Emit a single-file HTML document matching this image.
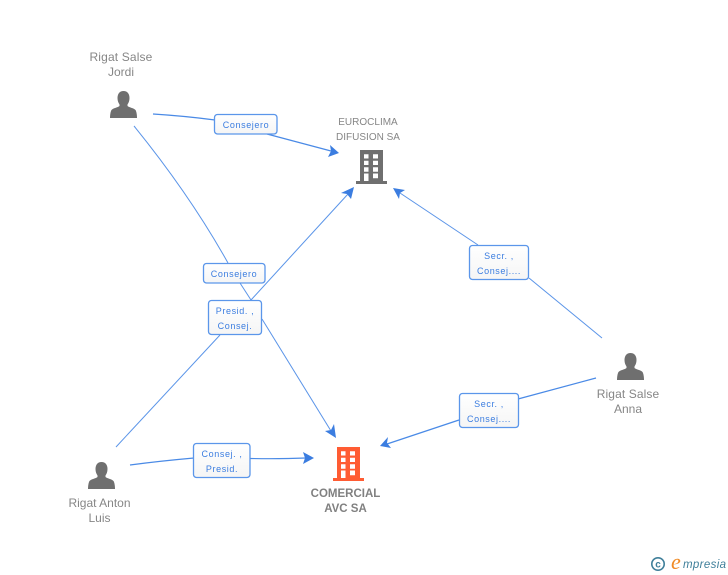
<!DOCTYPE html>
<html>
<head>
<meta charset="utf-8">
<style>
html,body{margin:0;padding:0;background:#fff;width:728px;height:575px;overflow:hidden}
svg{display:block}
text{font-family:"Liberation Sans",sans-serif}
.n{font-size:12px;fill:#868686;text-anchor:middle}
.b{font-size:11.5px;fill:#808080;text-anchor:middle;font-weight:bold}
.l{font-size:9px;fill:#3b7de0;text-anchor:middle;letter-spacing:.6px}
.c{fill:none;stroke:#4a8ae6;stroke-width:1.2}
.t{fill:none;stroke:#5a94e8;stroke-width:1}
.a{fill:#3b7de0}
.box{fill:url(#g);stroke:#5b96ea;stroke-width:1.3}
</style>
</head>
<body>
<svg width="728" height="575" viewBox="0 0 728 575" xmlns="http://www.w3.org/2000/svg">
<defs>
<linearGradient id="g" x1="0" y1="0" x2="0" y2="1"><stop offset="0" stop-color="#ffffff"/><stop offset="1" stop-color="#f5f5f5"/></linearGradient>
<g id="p"><path d="M13.5 0C9.5 0 7.5 3 7.5 7C7.5 10 8.5 12 9.500 13.500V15C8 16.500 3 17 1.500 19C.5 20.500 0 24 0 27H27C27 24 26.500 20.500 25.500 19C24 17 19 16.500 17.500 15V13.500C18.500 12 19.500 10 19.500 7C19.500 3 17.500 0 13.500 0Z" fill="#6f6f6f"/></g>
<g id="h"><path fill-rule="evenodd" d="M4 0H27V31H31V34H0V31H4ZM8 4.300V8.500H12.500V4.300ZM17 4.300V8.500H22V4.300ZM8 10.700V15H12.500V10.700ZM17 10.700V15H22V10.700ZM8 17.300V21.700H12.500V17.300ZM17 17.300V21.700H22V17.300ZM8 23.500V31H12.500V23.500ZM17 23.500V28.300H22V23.500Z"/></g>
</defs>

<path class="c" d="M153 114Q185 116 215 120"/>
<path class="c" d="M267 134L331 151"/>
<path class="a" d="M339 153L328 157L331 151L330 145Z"/>

<path class="t" d="M134 126Q190 195 228 263"/>
<path class="t" d="M240 283L251 300"/>
<path class="t" d="M262 319L331 431"/>
<path class="a" d="M336 438L325 431L331 430L334 424Z"/>

<path class="t" d="M116 447L220 335"/>
<path class="t" d="M251 300L348 194"/>
<path class="a" d="M354 187L351 199L347 194L341 193Z"/>

<path class="c" d="M130 465Q160 461 194 458"/>
<path class="c" d="M250 458.500Q280 459 306 458"/>
<path class="a" d="M314 458L303 464L305 458L303 452Z"/>

<path class="t" d="M602 338L529 278"/>
<path class="t" d="M478 245L400 193"/>
<path class="a" d="M393 188L405 190L400 193L399 199Z"/>

<path class="c" d="M596 378L518 399"/>
<path class="c" d="M459 420L387 444"/>
<path class="a" d="M380 446L388 437L387 443L391 448Z"/>

<use href="#p" x="110" y="91"/>
<use href="#p" x="88" y="462"/>
<use href="#p" x="617" y="353"/>
<use href="#h" x="356" y="150" fill="#6f6f6f"/>
<use href="#h" x="333" y="447" fill="#ff5c33"/>

<rect class="box" x="214.500" y="114.500" width="62.500" height="19.500" rx="3"/>
<text class="l" x="246" y="128">Consejero</text>
<rect class="box" x="203.500" y="263.500" width="61.500" height="19.500" rx="3"/>
<text class="l" x="234" y="277">Consejero</text>
<rect class="box" x="208.500" y="300.500" width="53" height="34" rx="3"/>
<text class="l" x="235" y="314">Presid. ,</text>
<text class="l" x="235" y="329">Consej.</text>
<rect class="box" x="193.500" y="443.500" width="56.500" height="34" rx="3"/>
<text class="l" x="222" y="457">Consej. ,</text>
<text class="l" x="222" y="472">Presid.</text>
<rect class="box" x="469.500" y="245.500" width="59" height="34" rx="3"/>
<text class="l" x="499" y="259">Secr. ,</text>
<text class="l" x="499" y="274">Consej....</text>
<rect class="box" x="459.500" y="393.500" width="59" height="34" rx="3"/>
<text class="l" x="489" y="407">Secr. ,</text>
<text class="l" x="489" y="422">Consej....</text>

<text class="n" x="121" y="61" style="letter-spacing:.15px">Rigat Salse</text>
<text class="n" x="121" y="76">Jordi</text>
<text class="n" x="368" y="125" style="font-size:10px">EUROCLIMA</text>
<text class="n" x="368" y="140" style="font-size:10px">DIFUSION SA</text>
<text class="n" x="99.500" y="507">Rigat Anton</text>
<text class="n" x="99.500" y="522">Luis</text>
<text class="n" x="628" y="398" style="letter-spacing:.1px">Rigat Salse</text>
<text class="n" x="628" y="413">Anna</text>
<text class="b" x="345.500" y="497">COMERCIAL</text>
<text class="b" x="345.500" y="512">AVC SA</text>

<circle cx="658" cy="564" r="6.200" fill="none" stroke="#3f7f9a" stroke-width="1.600"/>
<text x="658" y="567.500" text-anchor="middle" style="font-size:10px;fill:#3f7f9a;font-weight:bold">c</text>
<text x="671" y="569" style="font-family:'Liberation Serif',serif;font-size:22px;font-style:italic;fill:#f08a24">e</text>
<text x="683" y="568" style="font-size:11.500px;font-style:italic;fill:#3f7f9a;letter-spacing:.35px">mpresia</text>
</svg>
</body>
</html>
